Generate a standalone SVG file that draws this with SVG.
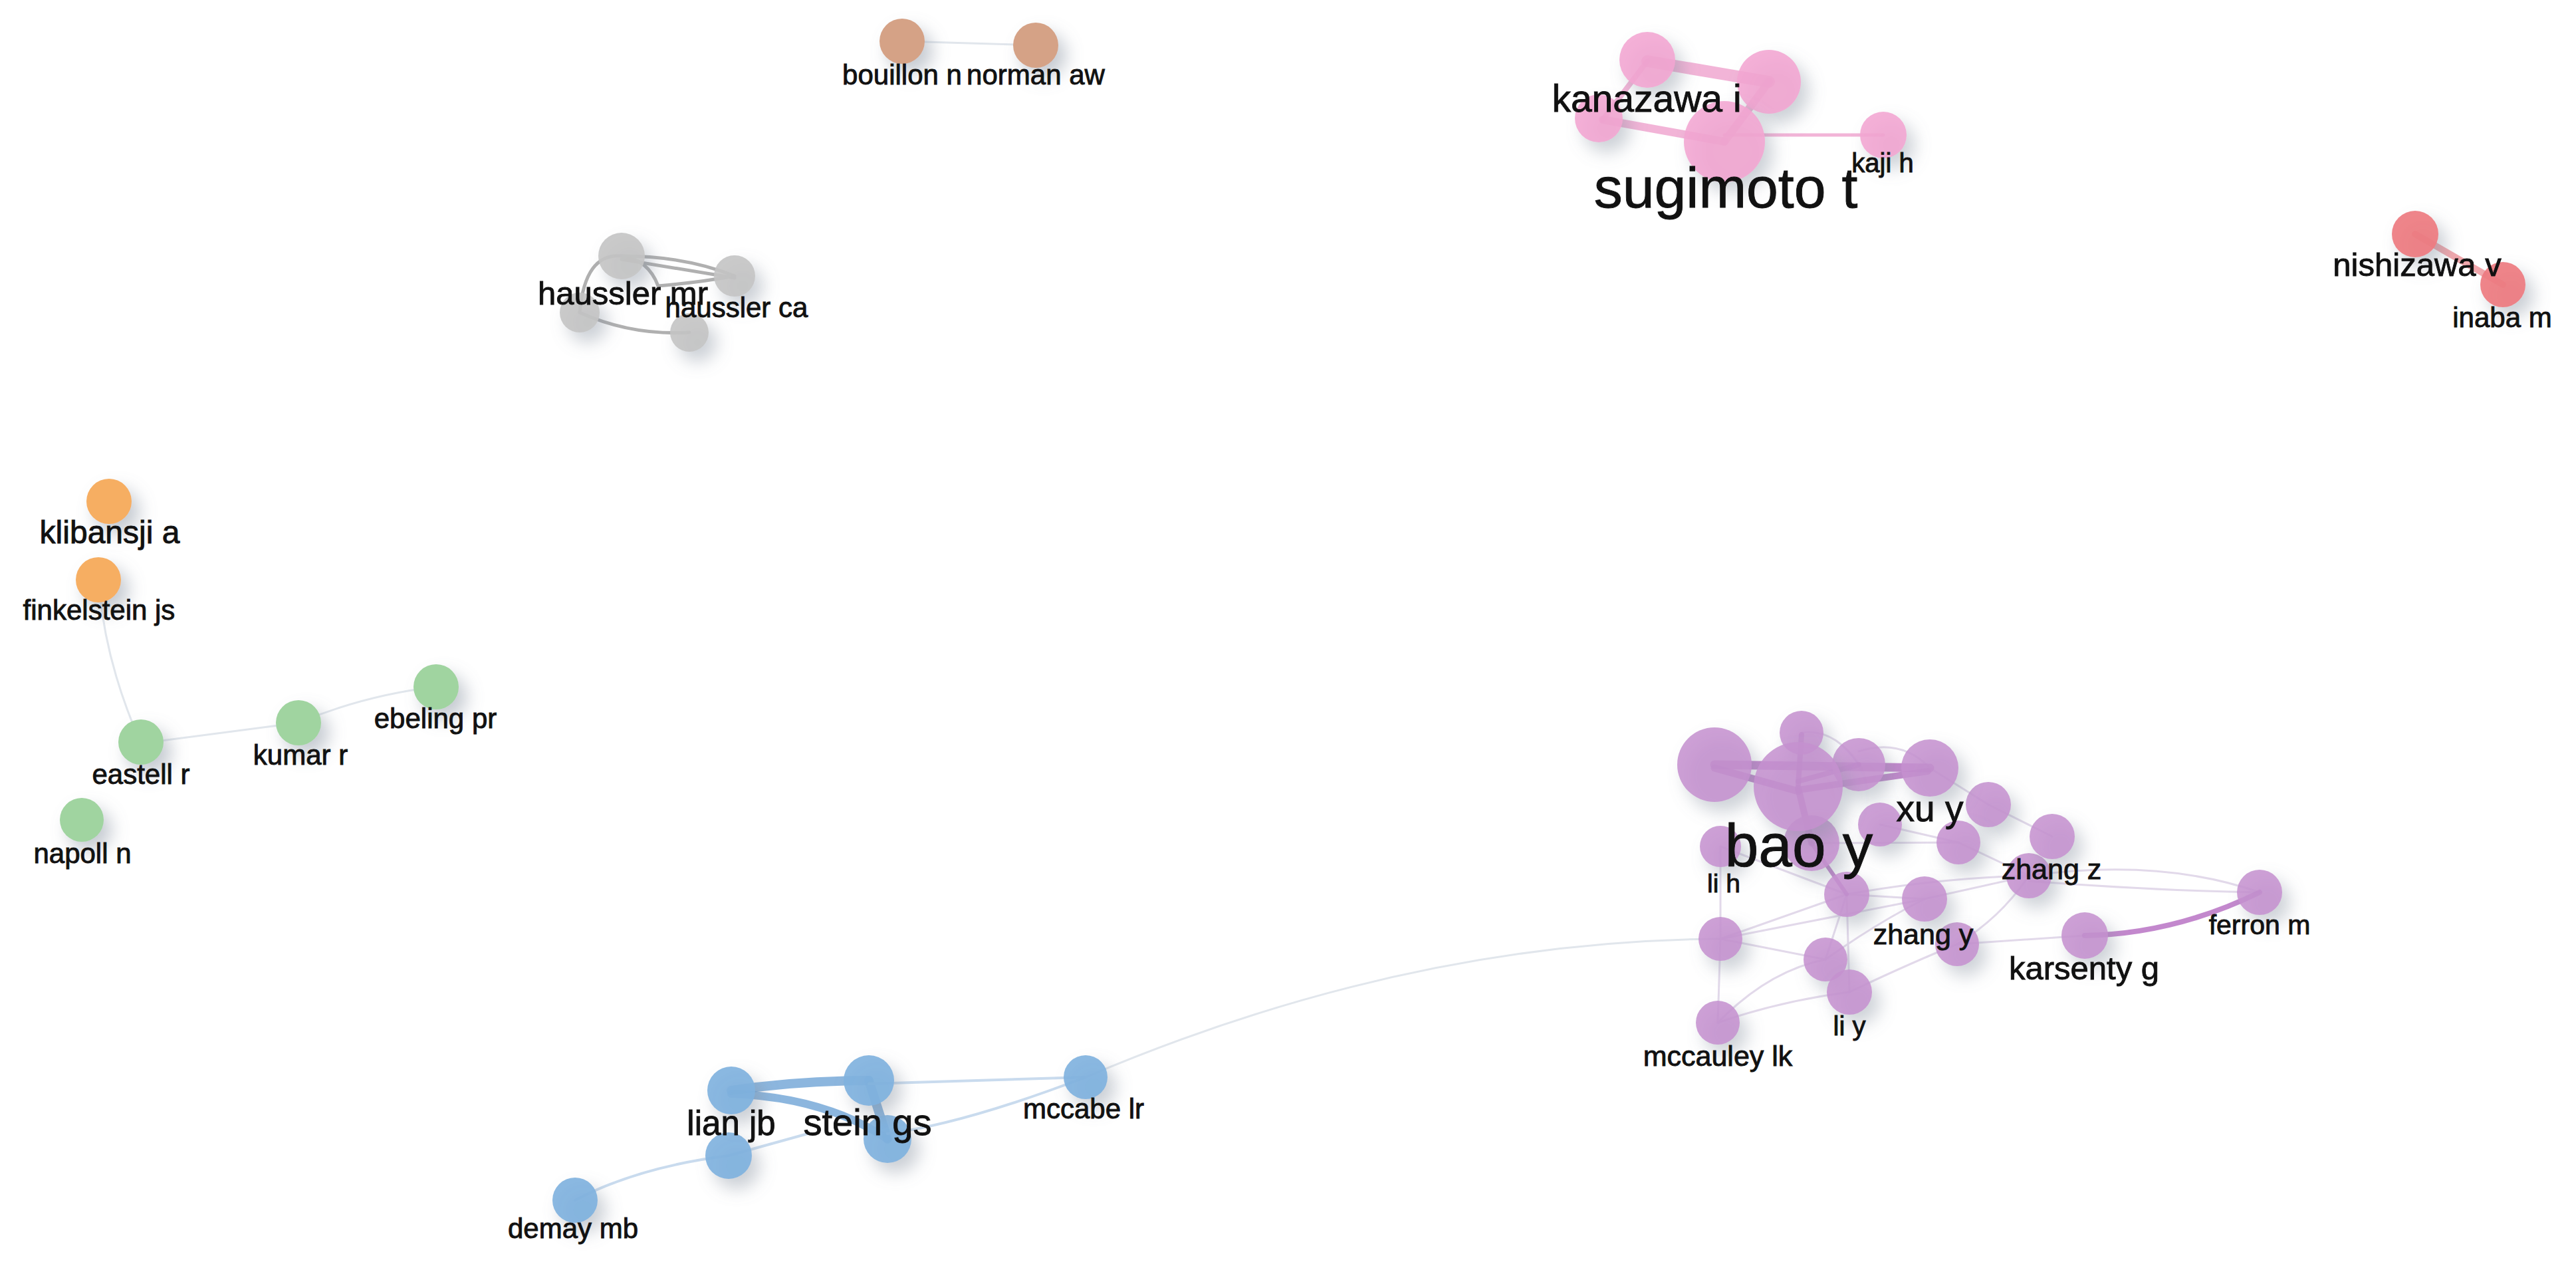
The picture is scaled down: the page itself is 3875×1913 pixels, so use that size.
<svg xmlns="http://www.w3.org/2000/svg" width="3875" height="1913" viewBox="0 0 3875 1913">
<defs>
<filter id="sh" x="-60%" y="-60%" width="240%" height="240%">
<feGaussianBlur in="SourceAlpha" stdDeviation="13"/>
<feOffset dx="12" dy="15" result="b"/>
<feFlood flood-color="#7f8a99" flood-opacity="0.45"/>
<feComposite in2="b" operator="in" result="s"/>
<feMerge><feMergeNode in="s"/><feMergeNode in="SourceGraphic"/></feMerge>
</filter>
<style>
text{font-family:"Liberation Sans",Arial,sans-serif;fill:#111;stroke:#111;stroke-width:0.9;text-anchor:middle}
circle{filter:url(#sh)}
.pk{fill:#f3a5d2;fill-opacity:0.88}
.br{fill:#d5a286}
.gy{fill:#c4c4c4;fill-opacity:0.9}
.rd{fill:#ee7b80;fill-opacity:0.92}
.or{fill:#f6ae62}
.gn{fill:#a0d4a0}
.bl{fill:#80b2de;fill-opacity:0.92}
.pu{fill:#c590cf;fill-opacity:0.86}
.e{fill:none;stroke-linecap:round}
.thin{stroke:#e2d9ea;stroke-width:3}
.pth{stroke:#a955b8;stroke-opacity:0.7}
.bth{stroke:#4f8fcc;stroke-opacity:0.65}
.bt{stroke:#c9dbee;stroke-width:4}
.pkt{stroke:#ec94c6;stroke-opacity:0.7}
.gt{stroke:#b0b0b0;stroke-width:5}
.lg{stroke:#e1e6ec;stroke-width:3}
</style>
</defs>
<rect width="3875" height="1913" fill="#ffffff"/>

<g id="edges">
<path class="e lg" d="M1357 62 L1558 68"/>
<path class="e gt" d="M935 385 Q1030 385 1105 415"/>
<path class="e gt" d="M872 470 Q880 380 935 385 Q975 390 990 430"/>
<path class="e gt" d="M872 470 Q950 505 1037 500"/>
<path class="e gt" d="M935 390 L1105 418"/>
<path class="e gt" d="M990 430 Q1050 425 1105 415"/>
<path class="e pkt" stroke-width="18" d="M2478 92 L2661 123"/>
<path class="e pkt" stroke-width="8" d="M2478 92 L2411 180"/>
<path class="e pkt" stroke-width="12" d="M2411 180 L2594 213"/>
<path class="e pkt" stroke-width="12" d="M2661 123 L2594 213"/>
<path class="e pkt" stroke-width="5" d="M2594 203 L2833 203"/>
<path class="e" stroke="#e86c74" stroke-opacity="0.6" stroke-width="10" d="M3633 352 L3765 428"/>
<path class="e lg" d="M150 890 Q160 1000 212 1118"/>
<path class="e lg" d="M212 1118 L449 1087"/>
<path class="e lg" d="M449 1087 Q550 1045 656 1033"/>
<path class="e bth" stroke-width="14" d="M1100 1640 Q1200 1625 1307 1625"/>
<path class="e bth" stroke-width="12" d="M1100 1645 Q1240 1650 1335 1713"/>
<path class="e bth" stroke-width="14" d="M1307 1625 L1335 1713"/>
<path class="e bt" d="M1307 1630 Q1480 1625 1633 1620"/>
<path class="e bt" d="M1335 1705 Q1450 1690 1633 1620"/>
<path class="e bt" d="M1096 1738 Q960 1755 865 1805"/>
<path class="e bt" d="M1096 1738 L1215 1705"/>
<path class="e lg" d="M1633 1620 Q2115 1415 2588 1412"/>
<path class="e thin" d="M2588 1412 L2778 1345"/>
<path class="e thin" d="M2588 1412 Q2750 1380 2895 1352"/>
<path class="e thin" d="M2588 1412 L2584 1538"/>
<path class="e thin" d="M2588 1412 L2746 1443"/>
<path class="e thin" d="M2584 1538 Q2660 1460 2746 1443"/>
<path class="e thin" d="M2584 1538 Q2680 1505 2782 1492"/>
<path class="e thin" d="M2746 1443 L2778 1345"/>
<path class="e thin" d="M2782 1492 Q2870 1450 2944 1420"/>
<path class="e thin" d="M2746 1443 Q2820 1390 2895 1352"/>
<path class="e thin" d="M2778 1345 L2895 1352"/>
<path class="e thin" d="M2778 1345 Q2920 1320 3052 1317"/>
<path class="e thin" d="M2895 1352 L3052 1317"/>
<path class="e thin" d="M2944 1420 L3136 1407"/>
<path class="e thin" d="M2944 1420 Q3010 1380 3052 1317"/>
<path class="e thin" d="M3052 1317 Q3250 1290 3399 1342"/>
<path class="e thin" d="M3052 1325 Q3250 1340 3399 1342"/>
<path class="e thin" d="M2946 1267 L3052 1317"/>
<path class="e thin" d="M2828 1240 L2946 1267"/>
<path class="e thin" d="M2991 1210 L3087 1258"/>
<path class="e thin" d="M2796 1130 Q2860 1110 2903 1155"/>
<path class="e thin" d="M2710 1102 Q2760 1095 2796 1150"/>
<path class="e thin" d="M2903 1155 L2991 1210"/>
<path class="e thin" d="M2588 1273 L2588 1412"/>
<path class="e thin" d="M2588 1273 L2778 1345"/>
<path class="e thin" d="M2725 1268 L2946 1267"/>
<path class="e thin" d="M2778 1345 L2782 1492"/>
<path class="e pth" stroke-width="13" d="M2579 1150 L2903 1155"/>
<path class="e pth" stroke-width="11" d="M2579 1155 L2705 1190"/>
<path class="e pth" stroke-width="10" d="M2705 1188 L2900 1160"/>
<path class="e pth" stroke-width="8" d="M2705 1175 L2796 1150"/>
<path class="e pth" stroke-width="8" d="M2710 1105 L2705 1180"/>
<path class="e pth" stroke-width="10" d="M2705 1185 L2725 1268"/>
<path class="e pth" stroke-width="6" d="M2725 1268 L2778 1345"/>
<path class="e pth" stroke-width="8" d="M3136 1407 Q3270 1405 3399 1342"/>
</g>

<g id="n-bouillon"><circle class="br" cx="1357" cy="62" r="34"/><text x="1357" y="127" font-size="42">bouillon n</text></g>
<g id="n-norman"><circle class="br" cx="1558" cy="68" r="34"/><text x="1558" y="127" font-size="42">norman aw</text></g>

<g id="n-gray3"><circle class="gy" cx="872" cy="470" r="30"/></g>
<g id="n-gray4"><circle class="gy" cx="1037" cy="500" r="29"/></g>
<g id="n-haussler-ca"><circle class="gy" cx="1105" cy="415" r="31"/><text x="1108" y="477" font-size="42">haussler ca</text></g>
<g id="n-haussler-mr"><circle class="gy" cx="935" cy="385" r="35"/><text x="937" y="458" font-size="49">haussler mr</text></g>

<g id="n-pink-b"><circle class="pk" cx="2661" cy="123" r="48"/></g>
<g id="n-pink-c"><circle class="pk" cx="2405" cy="178" r="36"/></g>
<g id="n-sugimoto"><circle class="pk" cx="2594" cy="213" r="61"/><text x="2596" y="312" font-size="86">sugimoto t</text></g>
<g id="n-kaji"><circle class="pk" cx="2833" cy="203" r="35"/><text x="2832" y="259" font-size="40">kaji h</text></g>
<g id="n-kanazawa"><circle class="pk" cx="2478" cy="90" r="42"/><text x="2477" y="168" font-size="57">kanazawa i</text></g>

<g id="n-inaba"><circle class="rd" cx="3765" cy="428" r="34"/><text x="3764" y="492" font-size="42">inaba m</text></g>
<g id="n-nishizawa"><circle class="rd" cx="3633" cy="352" r="35"/><text x="3636" y="415" font-size="49">nishizawa v</text></g>

<g id="n-klibansji"><circle class="or" cx="164" cy="754" r="34"/><text x="165" y="817" font-size="48">klibansji a</text></g>
<g id="n-finkelstein"><circle class="or" cx="148" cy="872" r="34"/><text x="149" y="932" font-size="42">finkelstein js</text></g>

<g id="n-eastell"><circle class="gn" cx="212" cy="1116" r="34"/><text x="212" y="1179" font-size="42">eastell r</text></g>
<g id="n-kumar"><circle class="gn" cx="449" cy="1087" r="34"/><text x="452" y="1150" font-size="42">kumar r</text></g>
<g id="n-ebeling"><circle class="gn" cx="656" cy="1033" r="34"/><text x="655" y="1095" font-size="42">ebeling pr</text></g>
<g id="n-napoll"><circle class="gn" cx="123" cy="1233" r="33"/><text x="124" y="1298" font-size="42">napoll n</text></g>

<g id="n-blue-lower"><circle class="bl" cx="1096" cy="1738" r="35"/></g>
<g id="n-blue-stein2"><circle class="bl" cx="1335" cy="1713" r="36"/></g>
<g id="n-mccabe"><circle class="bl" cx="1633" cy="1620" r="33"/><text x="1630" y="1682" font-size="42">mccabe lr</text></g>
<g id="n-demay"><circle class="bl" cx="865" cy="1805" r="34"/><text x="862" y="1862" font-size="42">demay mb</text></g>
<g id="n-stein"><circle class="bl" cx="1307" cy="1625" r="38"/><text x="1305" y="1707" font-size="56">stein gs</text></g>
<g id="n-lian"><circle class="bl" cx="1100" cy="1640" r="36"/><text x="1100" y="1707" font-size="51">lian jb</text></g>

<g id="n-p1"><circle class="pu" cx="2579" cy="1150" r="56"/></g>
<g id="n-p3"><circle class="pu" cx="2710" cy="1102" r="33"/></g>
<g id="n-p4"><circle class="pu" cx="2796" cy="1150" r="40"/></g>
<g id="n-p6"><circle class="pu" cx="2725" cy="1268" r="42"/></g>
<g id="n-p8"><circle class="pu" cx="2828" cy="1240" r="33"/></g>
<g id="n-p9"><circle class="pu" cx="2991" cy="1210" r="34"/></g>
<g id="n-p10"><circle class="pu" cx="2946" cy="1267" r="33"/></g>
<g id="n-p12"><circle class="pu" cx="3052" cy="1317" r="34"/></g>
<g id="n-p13"><circle class="pu" cx="2778" cy="1345" r="34"/></g>
<g id="n-p15"><circle class="pu" cx="2944" cy="1420" r="33"/></g>
<g id="n-p16"><circle class="pu" cx="2588" cy="1412" r="33"/></g>
<g id="n-p17"><circle class="pu" cx="2746" cy="1443" r="33"/></g>
<g id="n-li-y"><circle class="pu" cx="2782" cy="1492" r="34"/><text x="2782" y="1557" font-size="40">li y</text></g>
<g id="n-mccauley"><circle class="pu" cx="2584" cy="1538" r="33"/><text x="2584" y="1603" font-size="43">mccauley lk</text></g>
<g id="n-ferron"><circle class="pu" cx="3399" cy="1342" r="34"/><text x="3399" y="1405" font-size="41">ferron m</text></g>
<g id="n-karsenty"><circle class="pu" cx="3136" cy="1407" r="35"/><text x="3135" y="1473" font-size="49">karsenty g</text></g>
<g id="n-zhang-z"><circle class="pu" cx="3087" cy="1258" r="34"/><text x="3086" y="1322" font-size="43">zhang z</text></g>
<g id="n-zhang-y"><circle class="pu" cx="2895" cy="1352" r="34"/><text x="2893" y="1420" font-size="43">zhang y</text></g>
<g id="n-li-h"><circle class="pu" cx="2588" cy="1273" r="31"/><text x="2593" y="1342" font-size="39">li h</text></g>
<g id="n-xu-y"><circle class="pu" cx="2903" cy="1155" r="43"/><text x="2903" y="1235" font-size="55">xu y</text></g>
<g id="n-bao-y"><circle class="pu" cx="2705" cy="1183" r="67"/><text x="2706" y="1303" font-size="91">bao y</text></g>
</svg>
